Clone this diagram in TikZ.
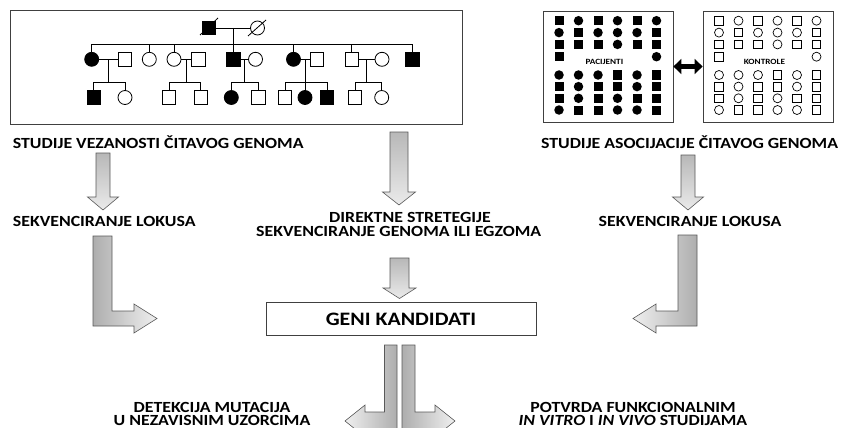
\documentclass[tikz,border=0pt]{standalone}
\usepackage{fontspec}
\setmainfont{Carlito}[FakeStretch=1.15]
\usetikzlibrary{arrows.meta,calc}
\begin{document}
\begin{tikzpicture}[x=1pt,y=-1pt,
  frame/.style={draw=black!75,line width=0.8pt},
  ped/.style={line width=0.8pt},
  sq/.style={draw,line width=0.8pt,minimum size=13.5pt,inner sep=0pt},
  fsq/.style={sq,fill=black},
  ci/.style={circle,draw,line width=0.8pt,minimum size=14pt,inner sep=0pt},
  fci/.style={ci,fill=black},
  ps/.style={fill=black,minimum size=9pt,inner sep=0pt},
  pc/.style={circle,fill=black,minimum size=9.5pt,inner sep=0pt},
  pn/.style={inner sep=0pt},
  qs/.style={draw,line width=0.7pt,minimum size=8.5pt,inner sep=0pt},
  qc/.style={circle,draw,line width=0.7pt,minimum size=9pt,inner sep=0pt},
  qn/.style={inner sep=0pt},
  lab/.style={font=\fontsize{15.5}{16}\selectfont\bfseries,inner sep=0pt,anchor=base,text height=10pt,text depth=0pt},
  lab2/.style={font=\fontsize{15.5}{13}\selectfont\bfseries,inner sep=0pt,anchor=north,align=center},
  tinylab/.style={font=\fontsize{8}{9}\selectfont\bfseries,inner sep=0pt},
  barrow/.style={draw=black!65,line width=0.6pt},
]
\useasboundingbox (0,0) rectangle (843,428);
\clip (0,0) rectangle (843,428);

% ---------- pedigree ----------
\node[frame,minimum width=452pt,minimum height=114pt,inner sep=0pt,anchor=north west] (pedbox) at (10,10) {};
\coordinate (s2) at (0,44.3);
\coordinate (s3) at (0,82.7);
% generation I
\node[fsq] (g1) at (209,28) {};
\node[ci]  (g2) at (257.5,28) {};
\draw[ped] (g1) -- (g2);
\draw[ped] ($(g1)+(-9,7)$) -- ($(g1)+(9,-10)$);
\draw[ped] ($(g2)+(-9.5,8)$) -- ($(g2)+(8.5,-8)$);
% generation II
\node[fci] (b1)  at (91.7,59.3) {};
\node[sq]  (b2)  at (125,59.3) {};
\node[ci]  (b3)  at (149.3,59.3) {};
\node[ci]  (b4)  at (174,59.3) {};
\node[sq]  (b5)  at (198.3,59.3) {};
\node[fsq] (b6)  at (233.3,59.3) {};
\node[ci]  (b7)  at (255.5,59.3) {};
\node[fci] (b8)  at (293.5,59.3) {};
\node[sq]  (b9)  at (316.7,59.3) {};
\node[sq]  (b10) at (351.7,59.3) {};
\node[ci]  (b11) at (382,59.3) {};
\node[fsq] (b12) at (412.5,59.3) {};
\coordinate (m0) at ($(g1)!0.5!(g2)$);
\draw[ped] (m0) -- (m0 |- s2);
\draw[ped] (b1.north |- s2) -- (b12.north |- s2);
\foreach \n in {b1,b3,b4,b6,b8,b10,b12} \draw[ped] (\n.north) -- (\n.north |- s2);
\foreach \a/\b/\m in {b1/b2/m1,b4/b5/m2,b6/b7/m3,b8/b9/m4,b10/b11/m5}{
  \draw[ped] (\a) -- (\b);
  \coordinate (\m) at ($(\a)!0.5!(\b)$);
  \draw[ped] (\m) -- (\m |- s3);
}
% generation III
\node[fsq] (c1)  at (93.7,97.5) {};
\node[ci]  (c2)  at (125,97.5) {};
\node[sq]  (c3)  at (169,97.5) {};
\node[sq]  (c4)  at (200.8,97.5) {};
\node[fci] (c5)  at (231.3,97.5) {};
\node[sq]  (c6)  at (258.3,97.5) {};
\node[sq]  (c7)  at (285,97.5) {};
\node[fci] (c8)  at (305,97.5) {};
\node[fsq] (c9)  at (327,97.5) {};
\node[sq]  (c10) at (355,97.5) {};
\node[ci]  (c11) at (381.7,97.5) {};
\foreach \a/\b in {c1/c2,c3/c4,c5/c6,c7/c9,c10/c11}
  \draw[ped] (\a.north) -- (\a.north |- s3) -- (\b.north |- s3) -- (\b.north);
\draw[ped] (c8.north) -- (c8.north |- s3);

% ---------- patients / controls ----------
\node[frame,minimum width=130pt,minimum height=111pt,inner sep=0pt] (pbox) at (608,66.5) {};
\node[frame,minimum width=130pt,minimum height=111pt,inner sep=0pt] (cbox) at (768,66.5) {};
\foreach \yy/\r/\pat in {20.7/1/{s,c,s,c,s,c},32.6/2/{c,s,c,c,c,s},44.4/3/{s,s,s,c,s,s},56.7/4/{s,n,n,n,n,c},
                         75/5/{c,c,c,s,c,s},86.6/6/{s,c,s,s,c,s},98.3/7/{s,c,s,c,s,s},110/8/{c,s,s,c,c,s}}{
  \foreach \t [count=\i] in \pat {
    \node[p\t] (p-\r-\i) at ({559+19.5*(\i-1)},\yy) {};
    \node[q\t] (q-\r-\i) at ({719+19.5*(\i-1)},\yy) {};
  }
}
\node[tinylab] (plab) at (604.4,62.3) {PACIJENTI};
\node[tinylab] (clab) at (764.4,62.3) {KONTROLE};
\draw[line width=4.5pt,{Triangle[length=8pt,width=15pt]}-{Triangle[length=8pt,width=15pt]}] (pbox) -- (cbox);

% ---------- labels ----------
\node[lab,anchor=base west] (t1) at (12.7,148.2) {STUDIJE VEZANOSTI ČITAVOG GENOMA};
\node[lab,anchor=base west] (t2) at (12.7,226.6) {SEKVENCIRANJE LOKUSA};
\node[lab,anchor=base east] (t3) at (838.3,148.9) {STUDIJE ASOCIJACIJE ČITAVOG GENOMA};
\node[lab] (t4) at (690,226.6) {SEKVENCIRANJE LOKUSA};
\node[lab] (t5) at (410,222.2) {DIREKTNE STRETEGIJE};
\node[lab] (t6) at (398.7,236.6) {SEKVENCIRANJE GENOMA ILI EGZOMA};
\node[frame,minimum width=270pt,minimum height=33.5pt,inner sep=0pt,font=\fontsize{19}{20}\selectfont\bfseries] (geni) at (401,319) {GENI KANDIDATI};
\node[lab2] (t8) at (212,402.4) {DETEKCIJA MUTACIJA\\U NEZAVISNIM UZORCIMA};
\node[lab2] (t10) at (633,402.4) {POTVRDA FUNKCIONALNIM\\\itshape IN VITRO\upshape{} I \itshape IN VIVO\upshape{} STUDIJAMA};

% ---------- block arrows ----------
\path[barrow,top color=black!28,bottom color=black!8]
  (96,153) -- (110,153) -- (110,197) -- (118.5,197) -- (103,210) -- (87.5,197) -- (96,197) -- cycle;
\path[barrow,top color=black!28,bottom color=black!8]
  (681,155) -- (695,155) -- (695,197) -- (703.5,197) -- (688,210) -- (672.5,197) -- (681,197) -- cycle;
\path[barrow,top color=black!28,bottom color=black!8]
  (390,132) -- (408,132) -- (408,192) -- (415.5,192) -- (399,205) -- (382.5,192) -- (390,192) -- cycle;
\path[barrow,top color=black!28,bottom color=black!8]
  (390,258) -- (409,258) -- (409,288) -- (416,288) -- (399.5,298.5) -- (383,288) -- (390,288) -- cycle;
\path[barrow,left color=black!32,right color=black!6]
  (93,236) -- (112,236) -- (112,311) -- (134,311) -- (134,304) -- (157,318.5) -- (134,333) -- (134,326) -- (93,326) -- cycle;
\path[barrow,left color=black!6,right color=black!32]
  (697,235) -- (678,235) -- (678,311) -- (656,311) -- (656,304) -- (633,318.5) -- (656,333) -- (656,326) -- (697,326) -- cycle;
\path[barrow,left color=black!6,right color=black!32]
  (397,345) -- (384.5,345) -- (384.5,412) -- (365,412) -- (365,405) -- (345,421) -- (365,437) -- (365,430) -- (397,430) -- cycle;
\path[barrow,left color=black!32,right color=black!6]
  (402,345) -- (415,345) -- (415,412) -- (435,412) -- (435,405) -- (455,421) -- (435,437) -- (435,430) -- (402,430) -- cycle;
\end{tikzpicture}
\end{document}
